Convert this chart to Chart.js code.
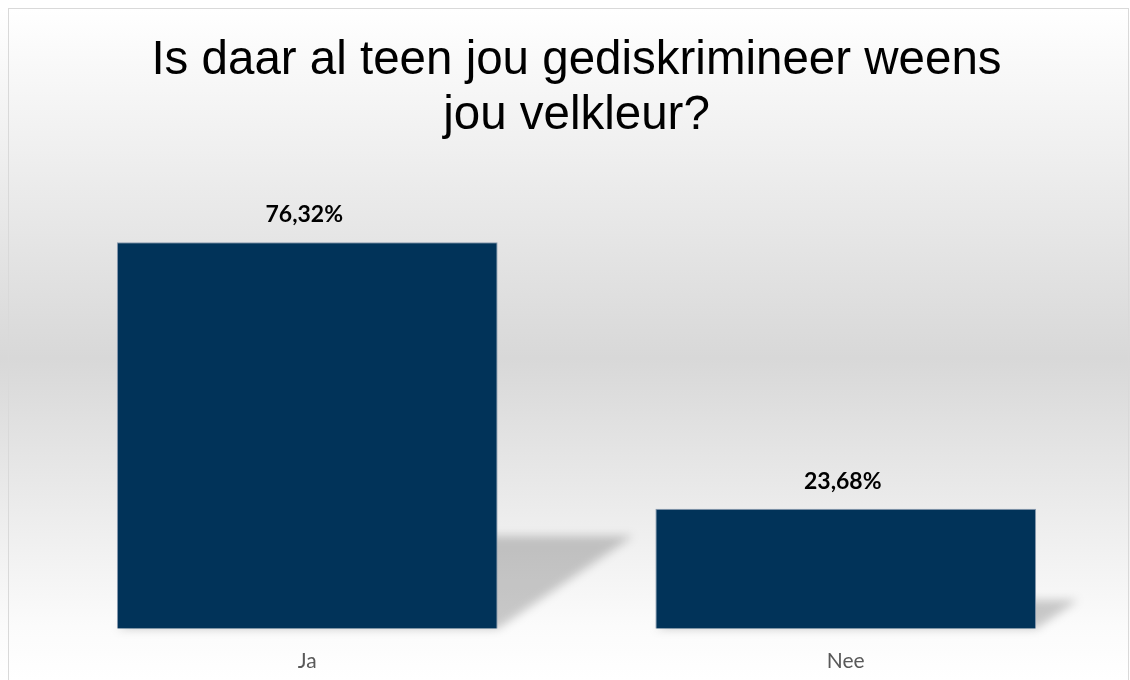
<!DOCTYPE html>
<html>
<head>
<meta charset="utf-8">
<script src="https://cdn.jsdelivr.net/npm/chart.js@4/dist/chart.umd.min.js"></script>
<style>
  html, body { margin: 0; padding: 0; background: #fff; }
  #wrap { width: 1130px; height: 680px; }
</style>
</head>
<body>
<div id="wrap"><canvas id="chart" width="1130" height="680"></canvas></div>
<script>
const categories = ['Ja', 'Nee'];
const percentages = [76.32, 23.68];
const valueLabels = ['76,32%', '23,68%'];
const titleLines = ['Is daar al teen jou gediskrimineer weens', 'jou velkleur?'];

// Grey band behind the plot plus the thin frame
const backgroundPlugin = {
    id: 'background',
    beforeDraw(chart) {
        const ctx = chart.ctx;
        const h = chart.height;
        ctx.save();
        const g = ctx.createLinearGradient(0, 9, 0, h);
        g.addColorStop(0, '#ffffff');
        g.addColorStop(0.52, '#d8d8d8');
        g.addColorStop(0.92, '#fbfbfb');
        g.addColorStop(1, '#ffffff');
        ctx.fillStyle = g;
        ctx.fillRect(0, 0, chart.width, h);
        ctx.strokeStyle = '#d9d9d9';
        ctx.lineWidth = 1;
        ctx.strokeRect(8.5, 8.5, 1120, h);
        ctx.restore();
    }
};

// Slanted perspective shadow to the right of each bar
const shadowPlugin = {
    id: 'barShadow',
    beforeDatasetsDraw(chart) {
        const ctx = chart.ctx;
        const meta = chart.getDatasetMeta(0);
        ctx.save();
        ctx.filter = 'blur(5px)';
        ctx.fillStyle = 'rgba(0, 0, 0, 0.2)';
        meta.data.forEach(bar => {
            const h = bar.base - bar.y;
            const left = bar.x - bar.width / 2;
            const right = bar.x + bar.width / 2;
            const top = bar.base - h * 0.24;
            const shift = h * 0.35;
            ctx.beginPath();
            ctx.moveTo(left, bar.base);
            ctx.lineTo(right, bar.base);
            ctx.lineTo(right + shift, top);
            ctx.lineTo(left + shift, top);
            ctx.closePath();
            ctx.fill();
        });
        ctx.restore();
    }
};

// Percent labels above the bars
const valueLabelPlugin = {
    id: 'valueLabels',
    afterDatasetsDraw(chart) {
        const ctx = chart.ctx;
        const meta = chart.getDatasetMeta(0);
        ctx.save();
        ctx.font = 'bold 23px Lato';
        ctx.fillStyle = '#000000';
        ctx.textAlign = 'center';
        ctx.textBaseline = 'alphabetic';
        meta.data.forEach((bar, i) => {
            ctx.fillText(valueLabels[i], bar.x - 3, bar.y - 20);
        });
        ctx.restore();
    }
};

new Chart(document.getElementById('chart'), {
    type: 'bar',
    data: {
        labels: categories,
        datasets: [{
            data: percentages,
            backgroundColor: '#013359',
            borderColor: '#8a9bb0',
            borderWidth: 1,
            barPercentage: 0.707,
            categoryPercentage: 1
        }]
    },
    options: {
        responsive: false,
        animation: false,
        layout: {
            padding: { top: 8, left: 38, right: 15, bottom: -14 }
        },
        plugins: {
            legend: { display: false },
            tooltip: { enabled: false },
            title: {
                display: true,
                text: titleLines,
                fullSize: false,
                color: '#000000',
                font: { family: 'Liberation Sans', size: 47.5, weight: 'normal', lineHeight: 55 / 47.5 },
                padding: { top: 25, bottom: 30 }
            }
        },
        scales: {
            x: {
                grid: { display: false, drawTicks: false },
                border: { display: false },
                ticks: {
                    color: '#595959',
                    padding: 20,
                    font: { family: 'Lato', size: 21 }
                }
            },
            y: {
                display: false,
                min: 0,
                max: 90
            }
        }
    },
    plugins: [backgroundPlugin, shadowPlugin, valueLabelPlugin]
});
</script>
</body>
</html>
